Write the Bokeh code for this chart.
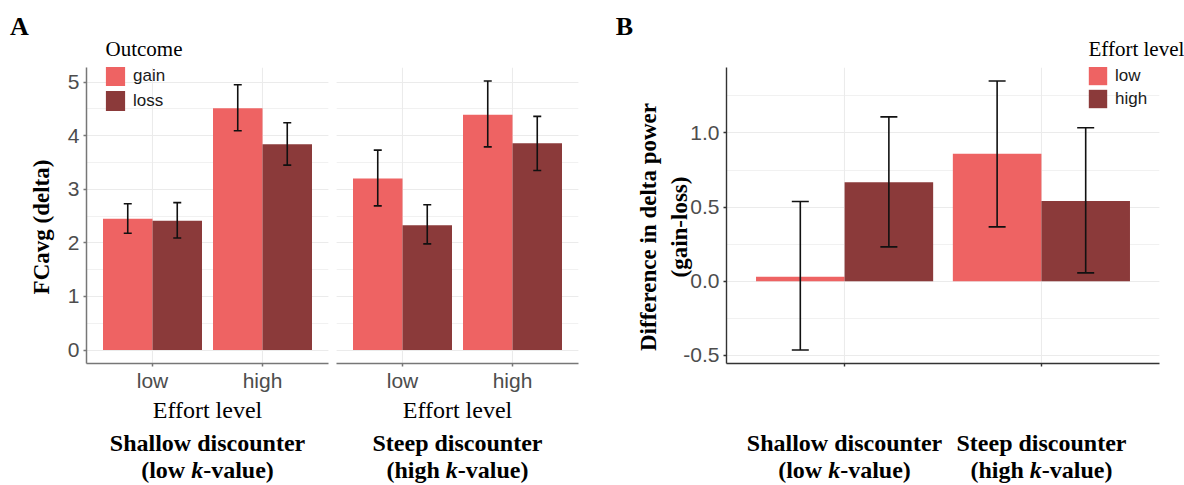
from bokeh.plotting import figure
from bokeh.models import (Range1d, FixedTicker, SingleIntervalTicker, Grid, Label, Legend,
                          LegendItem, Whisker, TeeHead, ColumnDataSource, PrintfTickFormatter,
                          LinearAxis)
from bokeh.layouts import row, column
from bokeh.embed import file_html
from bokeh.resources import INLINE

# ---------------- data ----------------
effort_levels = ["low", "high"]
outcomes = ["gain", "loss"]
discounters = ["Shallow discounter", "Steep discounter"]
k_levels = ["low", "high"]

# Panel A: FCavg (delta)
shallow_gain = [2.45, 4.51]
shallow_gain_lo = [2.18, 4.09]
shallow_gain_hi = [2.73, 4.95]
shallow_loss = [2.41, 3.84]
shallow_loss_lo = [2.09, 3.45]
shallow_loss_hi = [2.75, 4.24]
steep_gain = [3.20, 4.39]
steep_gain_lo = [2.69, 3.79]
steep_gain_hi = [3.73, 5.02]
steep_loss = [2.33, 3.86]
steep_loss_lo = [1.98, 3.35]
steep_loss_hi = [2.71, 4.36]

# Panel B: difference in delta power (gain-loss), per discounter group
diff_low = [0.03, 0.86]
diff_low_lo = [-0.465, 0.366]
diff_low_hi = [0.537, 1.351]
diff_high = [0.667, 0.541]
diff_high_lo = [0.231, 0.056]
diff_high_hi = [1.109, 1.035]

LIGHT = "#EE6363"
DARK = "#8B3A3A"
GRID = "#EBEBEB"
TICK_COL = "#4D4D4D"
SERIF = "Liberation Serif"
SANS = "Liberation Sans"
NBSP = "\u00a0"

W = 1184
TOP_H = 60
BOT_Y = 395
FULL_H = 485
MID_H = BOT_Y - TOP_H
XR = (0.4, 2.6)
DODGE = 0.225
BARW = 0.45
BASE_FIX = 9  # rendered alphabetic baseline sits lower than requested


def make_fig(width, left, right, top, bottom, yr, show_y):
    p = figure(width=width, height=MID_H, output_backend="svg", toolbar_location=None, tools="",
               x_range=Range1d(*XR), y_range=Range1d(*yr),
               min_border_left=left, min_border_right=right,
               min_border_top=top, min_border_bottom=bottom,
               y_axis_location="left" if show_y else None)
    p.outline_line_color = None
    p.background_fill_color = "white"
    p.border_fill_color = "white"
    return p


def text_band(height, y0):
    p = figure(width=W, height=height, output_backend="svg", toolbar_location=None, tools="",
               x_range=Range1d(0, W), y_range=Range1d(y0 + height, y0),
               x_axis_location=None, y_axis_location=None, min_border=0)
    p.outline_line_color = None
    p.grid.visible = False
    p.background_fill_color = "white"
    p.border_fill_color = "white"
    return p


def style_xaxis(p, labels, color, lw):
    ax = p.xaxis[0]
    ax.ticker = FixedTicker(ticks=[1, 2])
    ax.major_label_overrides = {1: labels[0], 2: labels[1]}
    ax.axis_line_color = color
    ax.axis_line_width = lw
    ax.major_tick_line_color = color
    ax.major_tick_line_width = lw
    ax.major_tick_in = 0
    ax.major_tick_out = 3
    ax.minor_tick_line_color = None
    ax.major_label_text_font = SANS
    ax.major_label_text_font_size = "21px"
    ax.major_label_text_color = TICK_COL
    ax.major_label_standoff = 2
    p.xgrid.grid_line_color = GRID
    p.xgrid.grid_line_width = 1.1


def style_yaxis(p, interval, color, lw, label, standoff, fmt=None):
    ax = p.yaxis[0]
    ax.ticker = SingleIntervalTicker(interval=interval, num_minor_ticks=2)
    if fmt:
        ax.formatter = PrintfTickFormatter(format=fmt)
    ax.axis_line_color = color
    ax.axis_line_width = lw
    ax.major_tick_line_color = color
    ax.major_tick_line_width = lw
    ax.major_tick_in = 0
    ax.major_tick_out = 3
    ax.minor_tick_line_color = None
    ax.major_label_text_font = SANS
    ax.major_label_text_font_size = "21px"
    ax.major_label_text_color = TICK_COL
    ax.major_label_standoff = 3
    ax.axis_label = label
    ax.axis_label_text_font = SERIF
    ax.axis_label_text_font_size = "23px"
    ax.axis_label_text_font_style = "bold"
    ax.axis_label_text_color = "black"
    ax.axis_label_text_line_height = 1.25
    ax.axis_label_standoff = standoff
    p.ygrid.grid_line_color = GRID
    p.ygrid.grid_line_width = 1.1
    p.ygrid.minor_grid_line_color = GRID
    p.ygrid.minor_grid_line_width = 0.7


def add_text(p, text, px, py, size, style="normal", align="center", font=SERIF):
    p.add_layout(Label(x=px, y=py - BASE_FIX, text=text, text_font=font,
                       text_font_size=f"{size}px", text_font_style=style, text_align=align,
                       text_baseline="alphabetic", text_color="black"))


def add_k_caption(p, prefix, cx, py, size):
    # "(prefix k-value)" with an italic k, laid out as three labels
    em = {"(": .333, "l": .278, "o": .5, "w": .722, " ": .25, "h": .556, "i": .278,
          "g": .5, "k": .5, "-": .333, "v": .5, "a": .5, "u": .556, "e": .444, ")": .333}
    w1 = sum(em[c] for c in "(" + prefix + " ") * size
    wk = em["k"] * size
    w2 = sum(em[c] for c in "-value)") * size
    start = cx - (w1 + wk + w2) / 2
    add_text(p, "(" + prefix + NBSP, start, py, size, style="bold", align="left")
    add_text(p, "k", start + w1, py, size, style="bold italic", align="left")
    add_text(p, "-value)", start + w1 + wk, py, size, style="bold", align="left")


def add_bars(p, xs, tops, los, his, color, cap):
    src = ColumnDataSource(dict(x=xs, top=tops, lower=los, upper=his))
    r = p.vbar(x="x", top="top", bottom=0, width=BARW, source=src,
               fill_color=color, line_color=None)
    p.add_layout(Whisker(source=src, base="x", lower="lower", upper="upper",
                         dimension="height", line_color="#111111", line_width=1.6,
                         level="annotation",
                         upper_head=TeeHead(size=cap, line_color="#111111", line_width=1.6),
                         lower_head=TeeHead(size=cap, line_color="#111111", line_width=1.6)))
    return r


def make_legend(items, x, y, gw, gh, spacing, size):
    return Legend(items=items, location=(x, y),
                  label_text_font=SANS, label_text_font_size=f"{size}px",
                  label_text_color="#1a1a1a",
                  glyph_width=gw, glyph_height=gh, label_height=20, spacing=spacing,
                  label_standoff=6, padding=0, margin=0, border_line_color=None,
                  background_fill_alpha=0)


pos = [i + 1 for i in range(len(effort_levels))]
left_x = [v - DODGE for v in pos]
right_x = [v + DODGE for v in pos]

YR_A = (-0.251, 5.271)
YR_B = (-0.556, 1.442)

# ---------------- Panel A, left facet (shallow) ----------------
pA1 = make_fig(332, 86, 4, 5, 32, YR_A, True)
style_xaxis(pA1, effort_levels, "#777777", 1.5)
style_yaxis(pA1, 1, "#777777", 1.5, "FCavg (delta)" + NBSP * 4, 11)
rg = add_bars(pA1, left_x, shallow_gain, shallow_gain_lo, shallow_gain_hi, LIGHT, 8)
rl = add_bars(pA1, right_x, shallow_loss, shallow_loss_lo, shallow_loss_hi, DARK, 8)
pA1.add_layout(make_legend([LegendItem(label=outcomes[0], renderers=[rg]),
                            LegendItem(label=outcomes[1], renderers=[rl])],
                           17, 250, 24, 25, -4, 17))

# ---------------- Panel A, right facet (steep) ----------------
pA2 = make_fig(268, 4, 22, 5, 32, YR_A, False)
style_xaxis(pA2, effort_levels, "#777777", 1.5)
pA2.center = [c for c in pA2.center if not (isinstance(c, Grid) and c.dimension == 1)]
pA2.add_layout(Grid(dimension=1,
                    axis=LinearAxis(ticker=SingleIntervalTicker(interval=1, num_minor_ticks=2)),
                    grid_line_color=GRID, grid_line_width=1.1,
                    minor_grid_line_color=GRID, minor_grid_line_width=0.7))
add_bars(pA2, left_x, steep_gain, steep_gain_lo, steep_gain_hi, LIGHT, 8)
add_bars(pA2, right_x, steep_loss, steep_loss_lo, steep_loss_hi, DARK, 8)

# ---------------- Panel B ----------------
pB = make_fig(584, 126, 25, 7, 30, YR_B, True)
style_xaxis(pB, ["", ""], "#333333", 1.4)
style_yaxis(pB, 0.5, "#333333", 1.4,
            "Difference in delta power" + NBSP * 4 + "\n(gain-loss)" + NBSP * 4, -12, fmt="%.1f")
rlow = add_bars(pB, left_x, diff_low, diff_low_lo, diff_low_hi, LIGHT, 17)
rhigh = add_bars(pB, right_x, diff_high, diff_high_lo, diff_high_hi, DARK, 17)
pB.add_layout(make_legend([LegendItem(label=effort_levels[0], renderers=[rlow]),
                           LegendItem(label=effort_levels[1], renderers=[rhigh])],
                          360, 253, 23, 23, -2, 17))

# ---------------- text bands ----------------
top = text_band(TOP_H, 0)
add_text(top, "A", 19, 35, 26, style="bold")
add_text(top, "B", 624, 35, 26, style="bold")
add_text(top, "Outcome", 105, 57, 21, align="left")
add_text(top, "Effort level", 1088, 57, 21, align="left")

bot = text_band(FULL_H - BOT_Y, BOT_Y)
add_text(bot, "Effort level", 207, 418, 24)
add_text(bot, "Effort level", 457, 418, 24)
add_text(bot, discounters[0], 207, 451, 24, style="bold")
add_k_caption(bot, k_levels[0], 207, 478, 24)
add_text(bot, discounters[1], 457, 451, 24, style="bold")
add_k_caption(bot, k_levels[1], 457, 478, 24)
add_text(bot, discounters[0], 844, 451, 24, style="bold")
add_k_caption(bot, k_levels[0], 844, 478, 24)
add_text(bot, discounters[1], 1041, 451, 24, style="bold")
add_k_caption(bot, k_levels[1], 1041, 478, 24)

layout = column(top, row(pA1, pA2, pB, spacing=0), bot, spacing=0)
open("out.html", "w").write(file_html(layout, INLINE))
